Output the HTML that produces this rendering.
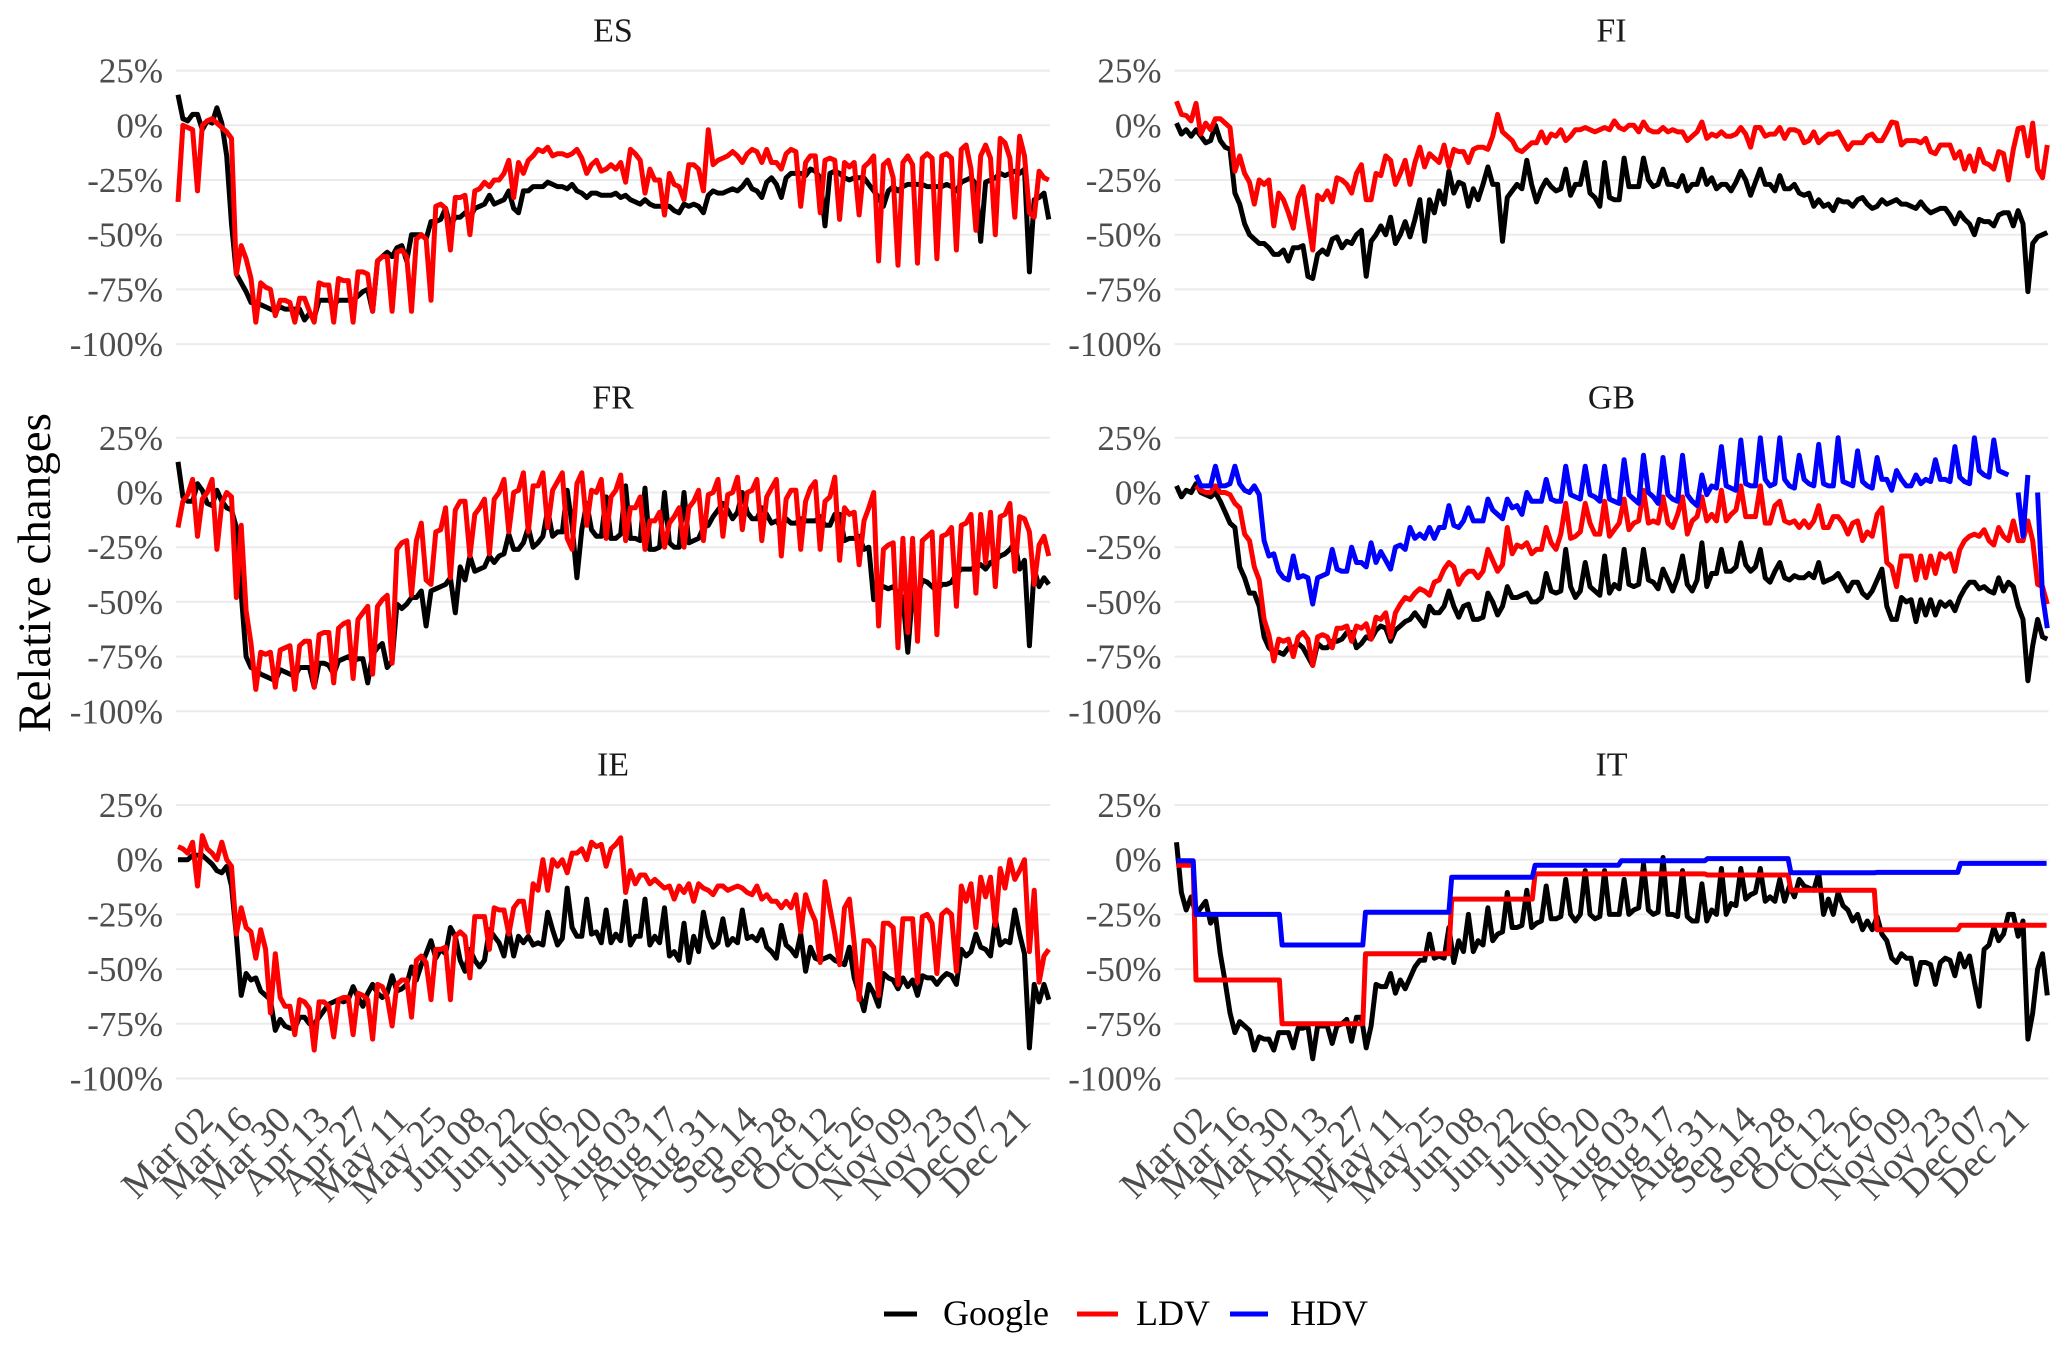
<!DOCTYPE html>
<html lang="en">
<head>
<meta charset="utf-8">
<title>Relative changes by country</title>
<style>
html,body{margin:0;padding:0;background:#fff;}
svg{display:block;}
text{font-family:"Liberation Serif",serif;}
</style>
</head>
<body>
<svg id="chart" xmlns="http://www.w3.org/2000/svg" width="2067" height="1351" viewBox="0 0 2067 1351">
<rect width="2067" height="1351" fill="#fff"/>
<text transform="translate(50,573) rotate(-90)" text-anchor="middle" font-size="47" fill="#000">Relative changes</text>
<g id="panels"></g>
<g>
<g>
<line x1="884" x2="917" y1="1314" y2="1314" stroke="#000" stroke-width="5"/>
<text x="943" y="1325" font-size="36" fill="#000">Google</text>
</g>
<g>
<line x1="1077" x2="1118" y1="1314" y2="1314" stroke="#f00" stroke-width="5"/>
<text x="1136" y="1325" font-size="36" fill="#000">LDV</text>
</g>
<g>
<line x1="1230" x2="1268" y1="1314" y2="1314" stroke="#00f" stroke-width="5"/>
<text x="1290" y="1325" font-size="36" fill="#000">HDV</text>
</g>
</g>
</svg>
<script>
// Data: four readings per week, starting Sun Feb 23 (percent change).
const esGoogle=[14,3,2,5, 5,-2,2,1, 8,1,-14,-45, -68,-72,-76,-81, -81,-82,-83,-84, -85,-83,-84,-84, -84,-84,-89,-86, -88,-80,-80,-80, -82,-80,-80,-80, -80,-78,-76,-75,
-85,-62,-60,-58, -60,-56,-55,-62, -50,-50,-50,-52, -44,-44,-43,-38, -46,-42,-42,-40, -42,-38,-37,-36, -32,-36,-35,-34, -30,-38,-40,-30, -30,-28,-28,-28, -26,-27,-28,-28,
-29,-27,-30,-31, -33,-31,-31,-32, -32,-32,-31,-33, -32,-34,-35,-36, -34,-36,-37,-37, -37,-37,-39,-40, -36,-37,-36,-37, -40,-32,-30,-31, -31,-30,-29,-30, -28,-25,-29,-30,
-33,-26,-24,-27, -33,-24,-22,-22, -22,-23,-20,-21, -24,-46,-22,-21, -22,-24,-25,-24, -24,-24,-27,-30, -33,-37,-30,-28, -30,-28,-27,-27, -27,-27,-28,-28, -28,-28,-27,-28,
-30,-26,-25,-24, -27,-53,-26,-25, -24,-22,-23,-22, -21,-22,-20,-67, -34,-33,-31,-43];
const esLdv=[-35,0,-1,-2, -30,0,2,3, 1,-1,-3,-6, -68,-55,-61,-70, -90,-72,-74,-75, -87,-80,-80,-81, -90,-79,-79,-85, -90,-72,-73,-73, -90,-70,-71,-71, -90,-67,-67,-68,
-85,-62,-60,-60, -85,-58,-57,-60, -85,-52,-50,-52, -80,-37,-36,-38, -57,-33,-33,-32, -50,-30,-29,-26, -28,-25,-25,-22, -16,-33,-17,-22, -16,-14,-11,-12, -10,-14,-13,-13,
-14,-13,-11,-15, -22,-18,-16,-21, -20,-18,-20,-17, -26,-11,-13,-16, -31,-20,-25,-25, -41,-22,-27,-28, -34,-18,-18,-20, -30,-2,-18,-16, -15,-14,-12,-14, -17,-13,-11,-12,
-17,-11,-17,-17, -20,-13,-11,-12, -37,-17,-14,-14, -40,-16,-15,-16, -43,-17,-19,-17, -41,-19,-17,-14, -62,-18,-16,-24, -64,-17,-14,-18, -63,-15,-13,-15, -61,-14,-13,-15,
-57,-11,-9,-20, -48,-14,-9,-15, -50,-6,-8,-15, -42,-5,-14,-40, -42,-21,-24,-25];
const fiGoogle=[1,-4,-2,-5, -2,-5,-8,-7, 0,-7,-10,-11, -31,-36,-45,-50, -52,-54,-54,-56, -59,-59,-57,-62, -56,-56,-55,-69, -70,-59,-57,-59, -52,-51,-56,-53, -54,-50,-48,-69,
-53,-50,-46,-50, -42,-54,-50,-44, -51,-43,-34,-53, -34,-40,-30,-36, -21,-31,-26,-27, -37,-29,-34,-27, -19,-27,-27,-53, -33,-30,-27,-29, -16,-27,-35,-29, -25,-28,-30,-29,
-20,-32,-27,-27, -17,-31,-33,-37, -17,-33,-34,-34, -15,-28,-28,-28, -15,-25,-28,-27, -20,-27,-27,-28, -23,-30,-27,-27, -20,-27,-24,-29, -27,-27,-30,-26, -21,-25,-32,-26,
-20,-27,-27,-30, -23,-29,-29,-27, -31,-32,-31,-37, -34,-37,-36,-39, -34,-35,-35,-37, -34,-33,-36,-38, -37,-34,-36,-35, -34,-36,-36,-37, -38,-35,-38,-40, -39,-38,-38,-41,
-45,-40,-43,-45, -50,-43,-44,-44, -46,-41,-40,-40, -46,-39,-45,-76, -54,-51,-50,-49];
const fiLdv=[11,5,4.5,2, 10,-4,1,-2, 3,3,1,-1, -21,-14,-22,-26, -36,-25,-27,-25, -46,-31,-34,-40, -47,-33,-28,-43, -57,-32,-34,-30, -35,-24,-25,-27, -31,-22,-18,-34,
-34,-22,-23,-14, -16,-27,-22,-16, -27,-17,-10,-19, -13,-15,-17,-9, -19,-11,-12,-12, -17,-11,-10,-10, -11,-5,5,-3, -5,-7,-11,-12, -10,-8,-8,-3, -8,-4,-5,-2,
-7,-5,-2,-2, -1,-2,-3,-2, -1,-2,2,-1, -2,0,0,-3, 1.5,-2,-3,-3, -1,-3,-2,-3, -3,-7,-5,-3, 1.5,-6,-4,-5, -3,-5,-5,-4, -1,-4,-10,-1,
-1,-5,-4,-4, -1,-6,-2,-2, -3,-8,-7,-3, -8,-6,-4,-4, -3,-7,-11,-8, -8,-8,-5,-4, -7,-7,-3,1.5, 1,-9,-7,-7, -7,-8,-6,-12, -13,-9,-9,-9,
-15,-12,-20,-14, -21,-11,-17,-18, -20,-12,-13,-25, -11,-1.5,-1,-14, 1,-20,-24,-9];
const frGoogle=[14,-2,-4,-4, 4,1,-5,-6, 1,-4,-7,-8, -16,-46,-75,-80, -81,-83,-84,-85, -86,-81,-82,-83, -84,-80,-80,-80, -89,-78,-78,-79, -83,-77,-76,-75, -77,-76,-76,-87,
-74,-71,-69,-80, -77,-51,-53,-51, -48,-48,-45,-61, -45,-44,-43,-42, -39,-55,-34,-40, -29,-36,-35,-34, -29,-32,-29,-28, -19,-26,-26,-23, -16,-25,-23,-20, -8,-20,-18,-18,
1,-15,-39,-17, -5,-17,-20,-20, -2,-21,-21,-19, 3,-21,-21,-22, 2,-26,-26,-25, 0,-23,-25,-25, 0,-23,-22,-21, -16,-15,-11,-8, -5,-8,-12,-9, 0,-9,-12,-12,
-7,-10,-14,-13, -16,-12,-14,-14, -12,-13,-13,-13, -11,-15,-15,-10, -10,-22,-21,-21, -20,-26,-25,-49, -42,-43,-44,-43, -46,-48,-73,-45, -48,-40,-41,-43, -45,-42,-42,-41,
-37,-35,-35,-35, -34,-33,-35,-32, -31,-29,-28,-26, -23,-35,-31,-70, -35,-43,-39,-42];
const frLdv=[-16,-4,-1,6, -20,-3,0,6, -26,-5,0,-2, -48,-15,-54,-69, -90,-73,-74,-73, -89,-72,-71,-70, -90,-70,-68,-68, -89,-65,-64,-64, -87,-62,-60,-59, -85,-58,-55,-52,
-83,-52,-49,-47, -78,-26,-23,-22, -47,-22,-14,-40, -42,-18,-17,-7, -39,-8,-4,-4, -29,-10,-7,-3, -28,-3,0,6, -18,0,1,9, -18,3,3,9, -16,1,5,9,
-21,-26,4,9, -15,1,0,6, -21,-2,1,8, -22,-7,-7,-2, -26,-13,-13,-9, -25,-14,-11,-7, -25,-7,-4,1, -22,-1,0,6, -20,-1,0,7, -17,0,1,6,
-22,-2,2,6, -29,-3,1,1, -26,-4,2,5, -26,-4,-2,7, -31,-7,-10,-9, -33,-13,-7,0, -61,-26,-24,-23, -71,-21,-64,-21, -68,-22,-20,-18, -65,-20,-19,-16,
-52,-15,-14,-10, -46,-10,-32,-9, -43,-11,-10,-5, -36,-11,-12,-18, -42,-24,-20,-29];
const gbGoogle=[3,-2,1,0, 4,0,-1,-2, 0,-4,-9,-14, -16,-34,-39,-46, -46,-52,-66,-71, -73,-73,-74,-71, -71,-69,-71,-75, -79,-69,-71,-71, -68,-68,-67,-64, -64,-71,-69,-66,
-67,-63,-61,-62, -68,-63,-61,-59, -58,-55,-58,-61, -52,-55,-55,-52, -45,-52,-57,-52, -51,-58,-58,-57, -46,-50,-56,-52, -43,-48,-48,-47, -46,-50,-50,-48, -37,-45,-46,-45,
-26,-43,-48,-45, -32,-43,-45,-47, -29,-46,-42,-44, -26,-42,-43,-42, -26,-40,-41,-44, -35,-40,-45,-39, -29,-42,-45,-40, -23,-43,-37,-37, -26,-36,-36,-34, -23,-33,-36,-34,
-26,-39,-41,-36, -32,-39,-40,-38, -39,-39,-37,-39, -32,-41,-40,-39, -37,-41,-45,-41, -41,-46,-48,-45, -40,-35,-52,-58, -58,-48,-50,-49, -59,-49,-56,-49, -56,-50,-52,-50,
-54,-48,-44,-41, -41,-44,-43,-45, -46,-39,-45,-41, -43,-52,-58,-86, -70,-58,-66,-67];
const gbLdv=[null,null,null,null, 3,1,0,0, 3,0,0,-1, -5,-7,-19,-22, -34,-40,-58,-65, -77,-67,-68,-67, -75,-66,-64,-67, -79,-66,-65,-66, -71,-62,-62,-61, -68,-61,-62,-60,
-67,-57,-58,-55, -66,-55,-51,-48, -49,-46,-44,-45, -47,-41,-40,-35, -32,-34,-42,-38, -36,-36,-39,-36, -26,-31,-36,-33, -16,-28,-24,-25, -23,-28,-26,-26, -16,-23,-26,-19,
-5,-21,-20,-18, -5,-14,-19,-19, -4,-20,-17,-14, -3,-17,-14,-13, 1,-14,-13,-14, -2,-14,-16,-10, -2,-19,-13,-11, -2,-13,-10,-13, 1,-13,-10,-8, 3,-11,-11,-11,
3,-14,-14,-6, -4,-13,-14,-13, -16,-13,-16,-13, -6,-16,-16,-11, -11,-14,-19,-14, -13,-22,-18,-20, -10,-7,-32,-34, -43,-29,-29,-29, -40,-29,-39,-29, -37,-28,-30,-28,
-36,-26,-22,-20, -19,-20,-17,-22, -24,-16,-20,-22, -13,-22,-22,-13, -22,-42,-43,-51];
const gbHdv=[null,null,null,null, 8,3,3,3, 12,3,3,4, 12,4,1,0, 3,-1,-22,-29, -28,-36,-39,-40, -29,-39,-38,-39, -51,-39,-38,-37, -26,-35,-36,-36, -25,-32,-32,-34,
-23,-32,-27,-31, -35,-25,-24,-26, -16,-21,-19,-21, -16,-21,-16,-16, -6,-15,-16,-13, -7,-13,-13,-13, -3,-8,-10,-12, -3,-7,-6,-10, 0,-4,-4,-4, 6,-3,-4,-4,
12,-1,-2,-3, 12,-1,-2,-4, 12,-3,-4,-5, 15,-1,-3,-5, 17,0,-2,-5, 16,-1,-3,-4, 17,-1,-4,-6, 8,-1,3,2, 21,3,2,1, 24,4,3,3,
25,6,3,4, 25,6,3,2, 17,6,4,3, 22,4,3,3, 25,5,4,3, 19,5,3,2, 16,6,6,1, 10,6,3,3, 8,4,6,5, 15,6,6,5,
21,7,5,4, 25,10,8,7, 24,10,9,8, null,0,-20,8, null,0,-47,-62];
const ieGoogle=[0,0,0,2, 2,2,0,-2, -5,-6,-3,-12, -35,-62,-52,-55, -54,-60,-62,-64, -78,-73,-76,-77, -77,-72,-72,-75, -75,-72,-69,-66, -65,-64,-65,-64, -58,-63,-67,-61,
-57,-61,-63,-61, -53,-60,-59,-57, -49,-55,-48,-43, -37,-45,-41,-43, -31,-35,-46,-51, -41,-46,-49,-46, -32,-35,-38,-44, -32,-44,-35,-38, -35,-39,-38,-39, -24,-32,-39,-36,
-13,-31,-35,-35, -18,-34,-33,-38, -23,-38,-34,-37, -19,-39,-35,-35, -18,-39,-35,-38, -22,-44,-42,-46, -29,-47,-35,-42, -24,-35,-40,-38, -27,-39,-36,-38, -23,-36,-35,-37,
-32,-40,-42,-45, -30,-39,-41,-44, -34,-51,-40,-45, -46,-45,-44,-46, -47,-48,-40,-54, -61,-69,-57,-61, -67,-52,-54,-55, -59,-54,-58,-55, -62,-53,-54,-54, -57,-54,-52,-53,
-57,-41,-44,-42, -34,-40,-41,-44, -27,-39,-37,-38, -23,-34,-43,-86, -57,-65,-57,-64];
const ieLdv=[6,5,3,8, -12,11,5,3, 0,8,0,-3, -34,-22,-31,-33, -45,-32,-41,-70, -43,-63,-67,-67, -80,-64,-65,-68, -87,-65,-65,-67, -81,-64,-63,-63, -80,-61,-62,-64,
-82,-57,-58,-63, -76,-57,-55,-55, -72,-46,-44,-47, -64,-41,-41,-40, -64,-35,-33,-35, -54,-26,-26,-26, -41,-22,-23,-23, -34,-22,-19,-19, -33,-11,-14,0, -14,0,-3,0,
-6,3,3,5, 0,8,6,7, -3,5,7,10, -15,-5,-11,-7, -7,-11,-9,-11, -13,-12,-18,-12, -15,-11,-19,-11, -13,-14,-16,-12, -12,-14,-13,-12, -13,-15,-16,-12,
-18,-16,-19,-19, -22,-19,-22,-16, -33,-16,-23,-28, -47,-10,-22,-34, -48,-22,-18,-38, -64,-37,-37,-40, -62,-29,-29,-31, -57,-27,-27,-27, -56,-26,-25,-29, -52,-25,-23,-25,
-51,-12,-19,-11, -31,-8,-17,-8, -30,-4,-13,0, -9,-5,0,-42, -14,-56,-44,-41];
const itGoogle=[8,-15,-23,-17, -25,-22,-19,-29, -25,-43,-56,-70, -79,-74,-76,-78, -87,-81,-82,-82, -87,-79,-79,-79, -86,-77,-77,-76, -91,-76,-76,-76, -84,-76,-75,-73, -83,-72,-72,-86,
-76,-57,-58,-58, -52,-61,-55,-59, -54,-49,-46,-46, -34,-45,-44,-45, -31,-47,-37,-42, -25,-42,-37,-39, -22,-37,-34,-33, -15,-31,-31,-30, -14,-31,-29,-28, -12,-27,-27,-26,
-9,-25,-28,-25, -5,-25,-27,-26, -5,-25,-25,-25, -9,-25,-23,-22, -2,-23,-25,-24, 1,-25,-25,-26, -5,-26,-28,-28, -11,-28,-23,-25, -4,-25,-20,-21, -4,-18,-16,-15,
-4,-19,-17,-19, -9,-19,-12,-17, -9,-12,-13,-14, -6,-25,-18,-25, -15,-21,-23,-28, -25,-32,-28,-32, -26,-34,-37,-45, -47,-43,-45,-45, -57,-47,-47,-48, -57,-47,-45,-46,
-53,-43,-49,-44, -56,-67,-41,-39, -31,-37,-34,-25, -25,-35,-28,-82, -70,-50,-43,-62];
// Italy's LDV and HDV are monthly levels: first day of each month and the level held.
const itMonthStartDays=[0,7,38,68,99,129,160,191,221,252,282];
const itLastDay=313;
const itLdv=[-2.5,-55,-75,-43,-18,-6.5,-6.5,-7,-14,-32,-30];
const itHdv=[-0.5,-25,-39,-24,-8,-2.5,-0.5,0.5,-6,-5.8,-1.7];

const panelNames=["ES","FI","FR","GB","IE","IT"];
const panelSeries={
  ES:{google:esGoogle,ldv:esLdv},
  FI:{google:fiGoogle,ldv:fiLdv},
  FR:{google:frGoogle,ldv:frLdv},
  GB:{google:gbGoogle,ldv:gbLdv,hdv:gbHdv},
  IE:{google:ieGoogle,ldv:ieLdv},
  IT:{google:itGoogle}
};
const yTicks=[25,0,-25,-50,-75,-100];
const xTickLabels=["Mar 02","Mar 16","Mar 30","Apr 13","Apr 27","May 11","May 25","Jun 08","Jun 22","Jul 06","Jul 20","Aug 03","Aug 17","Aug 31","Sep 14","Sep 28","Oct 12","Oct 26","Nov 09","Nov 23","Dec 07","Dec 21"];
const firstTickDay=8, tickStepDays=14, sampleStepDays=1.75;

const NS="http://www.w3.org/2000/svg";
const colors={google:"#000",ldv:"#f00",hdv:"#00f"};
const root=document.getElementById("panels");

function el(tag,attrs,parent){
  const n=document.createElementNS(NS,tag);
  for(const k in attrs)n.setAttribute(k,attrs[k]);
  parent.appendChild(n);
  return n;
}
function pathFrom(points,xf,yf){
  let d="",pen=false;
  for(const p of points){
    if(p[1]===null){pen=false;continue;}
    d+=(pen?"L":"M")+xf(p[0]).toFixed(1)+" "+yf(p[1]).toFixed(1);
    pen=true;
  }
  return d;
}
function sampledPoints(values){
  return values.map((v,i)=>[i*sampleStepDays,v]);
}
function monthlyPoints(values){
  const pts=[];
  values.forEach((v,i)=>{
    const end=i+1<itMonthStartDays.length?itMonthStartDays[i+1]-1:itLastDay;
    pts.push([itMonthStartDays[i],v]);
    pts.push([end,v]);
  });
  return pts;
}

panelNames.forEach((name,idx)=>{
  const col=idx%2,row=Math.floor(idx/2);
  const left=176+col*998.5,right=left+874;
  const zeroY=125.3+row*367.2;
  const xf=d=>left+2+2.78*d;
  const yf=v=>zeroY-v*2.188;
  const g=el("g",{},root);
  
  

  const title=el("text",{x:(left+right)/2,y:zeroY-84,"text-anchor":"middle","font-size":34,fill:"#1a1a1a"},g);
  title.textContent=name;
  
  

  yTicks.forEach(t=>{
    const grid=el("line",{x1:left,x2:right,y1:yf(t),y2:yf(t),stroke:"#ebebeb","stroke-width":2},g);
    
    
    const lab=el("text",{x:left-13,y:yf(t)+12,"text-anchor":"end","font-size":35,fill:"#4d4d4d"},g);
    lab.textContent=t+"%";
    
    
  });

  const series=panelSeries[name];
  Object.keys(series).forEach(key=>{
    const p=el("path",{d:pathFrom(sampledPoints(series[key]),xf,yf),fill:"none",stroke:colors[key],"stroke-width":5,"stroke-linejoin":"round"},g);
    
    
  });
  if(name==="IT"){
    [["ldv",itLdv],["hdv",itHdv]].forEach(s=>{
      const p=el("path",{d:pathFrom(monthlyPoints(s[1]),xf,yf),fill:"none",stroke:colors[s[0]],"stroke-width":5,"stroke-linejoin":"round"},g);
      
      
    });
  }
  if(row===2){
    xTickLabels.forEach((t,i)=>{
      const tx=xf(firstTickDay+i*tickStepDays)+15;
      const lab=el("text",{transform:"translate("+tx+",1122) rotate(-45)","text-anchor":"end","font-size":38,fill:"#4d4d4d"},g);
      lab.textContent=t;
      
      
    });
  }
});
</script>
</body>
</html>
